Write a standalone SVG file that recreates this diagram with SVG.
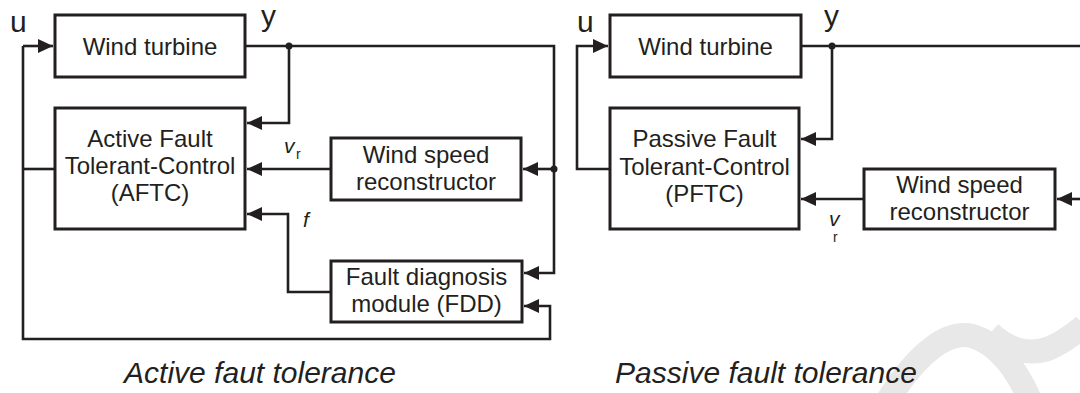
<svg xmlns="http://www.w3.org/2000/svg" width="1080" height="393" viewBox="0 0 1080 393">
<style>
.box{fill:#fff;stroke:#231f20;stroke-width:3}
.ln{fill:none;stroke:#231f20;stroke-width:2.6}
.t{font-family:"Liberation Sans",Arial,sans-serif;font-size:24px;fill:#231f20;text-anchor:middle}
.lab{font-family:"Liberation Sans",Arial,sans-serif;font-size:30px;fill:#231f20}
.it{font-family:"Liberation Sans",Arial,sans-serif;font-style:italic;fill:#231f20}
.sub{font-family:"Liberation Sans",Arial,sans-serif;font-size:14px;fill:#231f20}
.cap{font-family:"Liberation Sans",Arial,sans-serif;font-style:italic;font-size:30px;fill:#231f20;text-anchor:middle}
.dot{fill:#231f20}
.wm{fill:none;stroke:#e8e8e8;stroke-width:24}
</style>
<defs>
<marker id="ah" markerUnits="userSpaceOnUse" markerWidth="16" markerHeight="14" refX="15" refY="7" orient="auto">
<path d="M0,0 L15,7 L0,14 z" fill="#231f20"/>
</marker>
</defs>
<rect width="1080" height="393" fill="#fff"/>
<g id="watermark">
<path class="wm" d="M888 400 C918 352 948 330 972 336 C998 343 1018 372 1030 400"/>
<path class="wm" d="M990 333 C1008 350 1030 356 1050 348 C1064 342 1074 334 1084 326"/>
</g>
<g id="connectors">
<path class="ln" d="M245 46 H554 V273 H524" marker-end="url(#ah)"/>
<path class="ln" d="M289 46 V123 H247" marker-end="url(#ah)"/>
<path class="ln" d="M554 169 H523" marker-end="url(#ah)"/>
<path class="ln" d="M331 169 H247" marker-end="url(#ah)"/>
<path class="ln" d="M331 292 H288 V214 H247" marker-end="url(#ah)"/>
<path class="ln" d="M55 169 H23"/>
<path class="ln" d="M23 46 H53" marker-end="url(#ah)"/>
<path class="ln" d="M23 46 V339 H550 V306 H524" marker-end="url(#ah)"/>
<circle class="dot" cx="289" cy="46" r="3.5"/>
<circle class="dot" cx="554" cy="169" r="3.5"/>
<path class="ln" d="M801 46 H1080"/>
<path class="ln" d="M832 46 V139 H801" marker-end="url(#ah)"/>
<path class="ln" d="M1080 199 H1057" marker-end="url(#ah)"/>
<path class="ln" d="M864 199 H801" marker-end="url(#ah)"/>
<path class="ln" d="M610 169 H577 V46 H608" marker-end="url(#ah)"/>
<circle class="dot" cx="832" cy="46" r="3.5"/>
</g>
<g id="labels">
<text class="lab" x="10" y="32">u</text>
<text class="lab" x="261" y="26">y</text>
<text class="it" x="284" y="153" font-size="21">v</text>
<text class="sub" x="296" y="159">r</text>
<text class="it" x="303" y="227" font-size="21">f</text>
<text class="lab" x="577" y="32">u</text>
<text class="lab" x="824" y="26">y</text>
<text class="it" x="829" y="226" font-size="21">v</text>
<text class="sub" x="833" y="242">r</text>
</g>
<g id="wt1">
<rect class="box" x="55" y="15" width="190" height="62"/>
<text class="t" x="150" y="55">Wind turbine</text>
</g>
<g id="aftc">
<rect class="box" x="55" y="108" width="190" height="121"/>
<text class="t" x="150" y="147">Active Fault</text>
<text class="t" x="150" y="174">Tolerant-Control</text>
<text class="t" x="150" y="201">(AFTC)</text>
</g>
<g id="wsr1">
<rect class="box" x="331" y="138" width="190" height="62"/>
<text class="t" x="426" y="163">Wind speed</text>
<text class="t" x="426" y="190">reconstructor</text>
</g>
<g id="fdd">
<rect class="box" x="331" y="261" width="191" height="61"/>
<text class="t" x="426.5" y="285">Fault diagnosis</text>
<text class="t" x="426.5" y="312">module (FDD)</text>
</g>
<g id="wt2">
<rect class="box" x="610" y="15" width="191" height="62"/>
<text class="t" x="705.5" y="55">Wind turbine</text>
</g>
<g id="pftc">
<rect class="box" x="610" y="108" width="189" height="121"/>
<text class="t" x="704.5" y="147">Passive Fault</text>
<text class="t" x="704.5" y="175">Tolerant-Control</text>
<text class="t" x="704.5" y="202">(PFTC)</text>
</g>
<g id="wsr2">
<rect class="box" x="864" y="169" width="191" height="60"/>
<text class="t" x="959.5" y="193">Wind speed</text>
<text class="t" x="959.5" y="220">reconstructor</text>
</g>
<g id="captions">
<text class="cap" x="260" y="383" font-size="28">Active faut tolerance</text>
<text class="cap" x="766" y="383">Passive fault tolerance</text>
</g>
</svg>
